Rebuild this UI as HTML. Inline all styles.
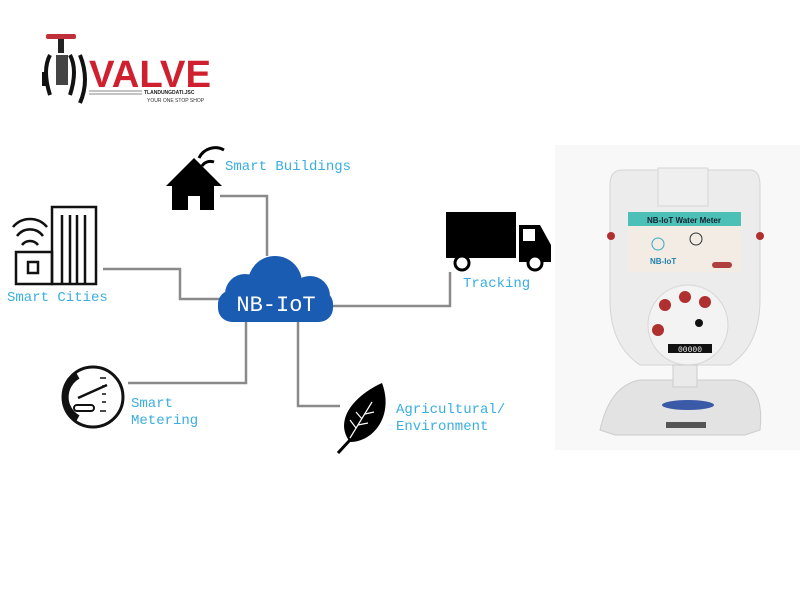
<!DOCTYPE html>
<html><head><meta charset="utf-8"><style>
html,body{margin:0;padding:0;background:#fff;width:800px;height:600px;overflow:hidden}
svg{display:block}
.lbl{font-family:"Liberation Mono",monospace;font-size:14px;fill:#3aaee0}
</style></head><body>
<svg width="800" height="600" viewBox="0 0 800 600" xmlns="http://www.w3.org/2000/svg">
<rect width="800" height="600" fill="#fff"/>
<!-- logo -->
<g>
<rect x="46" y="34" width="30" height="5" rx="2" fill="#c0303a"/>
<rect x="58" y="39" width="6" height="14" fill="#222"/>
<path d="M50 55 q-8 15 0 40" stroke="#111" stroke-width="4" fill="none"/>
<path d="M70 55 q8 15 0 40" stroke="#111" stroke-width="4" fill="none"/>
<path d="M80 55 q10 25 0 48" stroke="#111" stroke-width="4" fill="none"/>
<rect x="56" y="55" width="12" height="30" fill="#444"/>
<rect x="42" y="72" width="4" height="14" fill="#111"/>
<text x="89" y="87" font-family="Liberation Sans,sans-serif" font-weight="bold" font-size="38" fill="#d02030" textLength="122" lengthAdjust="spacingAndGlyphs">VALVE</text>
<line x1="89" y1="91" x2="142" y2="91" stroke="#888" stroke-width="1"/>
<line x1="89" y1="94" x2="142" y2="94" stroke="#888" stroke-width="1"/>
<text x="144" y="94" font-family="Liberation Sans,sans-serif" font-weight="bold" font-size="5" fill="#222">TLANDUNGDATI.JSC</text>
<text x="147" y="102" font-family="Liberation Sans,sans-serif" font-size="5" fill="#333">YOUR ONE STOP SHOP</text>
</g>
<!-- connectors -->
<g stroke="#8a8a8a" stroke-width="2.5" fill="none">
<polyline points="220,196 267,196 267,256"/>
<polyline points="103,269 180,269 180,299 220,299"/>
<polyline points="333,306 450,306 450,272"/>
<polyline points="128,383 246,383 246,322"/>
<polyline points="298,322 298,406 340,406"/>
</g>
<!-- cloud -->
<g fill="#1b5cb3">
<circle cx="275" cy="283" r="27"/>
<circle cx="245" cy="294" r="20"/>
<circle cx="310" cy="296" r="20"/>
<rect x="218" y="290" width="115" height="32" rx="14"/>
</g>
<text x="276" y="311" text-anchor="middle" font-family="Liberation Mono,monospace" font-size="22" fill="#fff">NB-IoT</text>
<!-- house -->
<path d="M166 186 L194 158 L222 186 L214 186 L214 210 L200 210 L200 196 L188 196 L188 210 L172 210 L172 186 Z" fill="#000"/>
<path d="M202 166 a10 10 0 0 1 12 -4 M199 158 a18 18 0 0 1 25 -8" stroke="#000" stroke-width="3" fill="none"/>
<text class="lbl" x="225" y="170">Smart Buildings</text>
<!-- cities -->
<g stroke="#111" stroke-width="2.5" fill="none">
<rect x="52" y="207" width="44" height="77"/>
<rect x="16" y="252" width="36" height="32"/>
<rect x="28" y="262" width="10" height="11"/>
<line x1="62" y1="215" x2="62" y2="284"/><line x1="70" y1="215" x2="70" y2="284"/>
<line x1="77" y1="215" x2="77" y2="284"/><line x1="85" y1="215" x2="85" y2="284"/>
<path d="M13 227 a22 22 0 0 1 34 0 M17 236 a16 16 0 0 1 26 0 M22 245 a10 10 0 0 1 16 0"/>
</g>
<text class="lbl" x="7" y="301">Smart Cities</text>
<!-- truck -->
<rect x="446" y="212" width="70" height="46" fill="#000"/>
<path d="M519 225 L540 225 L551 245 L551 262 L519 262 Z" fill="#000"/>
<rect x="523" y="229" width="12" height="12" fill="#fff"/>
<circle cx="462" cy="263" r="7" fill="#fff" stroke="#000" stroke-width="3"/>
<circle cx="535" cy="263" r="7" fill="#fff" stroke="#000" stroke-width="3"/>
<text class="lbl" x="463" y="287">Tracking</text>
<!-- metering -->
<circle cx="93" cy="397" r="30" fill="none" stroke="#111" stroke-width="3"/>
<path d="M78 376 a24 24 0 0 0 0 42" stroke="#111" stroke-width="6" fill="none"/>
<line x1="78" y1="398" x2="107" y2="385" stroke="#111" stroke-width="2.5"/>
<rect x="74" y="405" width="20" height="6" rx="3" fill="none" stroke="#111" stroke-width="2"/>
<g stroke="#111" stroke-width="1.5"><line x1="100" y1="378" x2="106" y2="378"/><line x1="102" y1="386" x2="106" y2="386"/><line x1="102" y1="394" x2="106" y2="394"/><line x1="102" y1="402" x2="106" y2="402"/><line x1="100" y1="411" x2="106" y2="411"/></g>
<text class="lbl" x="131" y="407">Smart</text>
<text class="lbl" x="131" y="424">Metering</text>
<!-- leaf -->
<path d="M382 383 C355 395 333 420 350 442 C374 442 394 415 382 383 Z" fill="#000"/>
<path d="M350 440 L338 453" stroke="#000" stroke-width="3"/>
<path d="M350 438 L372 402 M356 428 l-6 -8 M362 419 l-6 -7 M358 425 l10 -2 M365 414 l9 -2" stroke="#fff" stroke-width="1.2" fill="none"/>
<text class="lbl" x="396" y="413">Agricultural/</text>
<text class="lbl" x="396" y="430">Environment</text>
<!-- meter photo -->
<rect x="555" y="145" width="245" height="305" fill="#f8f8f8"/>
<path d="M622 170 L750 170 Q760 170 760 185 L760 300 Q760 345 730 365 L640 365 Q610 345 610 300 L610 185 Q610 170 622 170 Z" fill="#ececec" stroke="#d5d5d5"/>
<rect x="658" y="168" width="50" height="38" fill="#efefef" stroke="#d6d6d6"/>
<rect x="628" y="212" width="113" height="60" fill="#f2ece4"/>
<rect x="628" y="212" width="113" height="14" fill="#4cc0b6"/>
<text x="684" y="223" text-anchor="middle" font-family="Liberation Sans,sans-serif" font-weight="bold" font-size="8" fill="#123">NB-IoT Water Meter</text>
<circle cx="658" cy="244" r="6" fill="none" stroke="#3aa8c8"/>
<text x="650" y="264" font-family="Liberation Sans,sans-serif" font-weight="bold" font-size="8" fill="#1e7fb0">NB-IoT</text>
<circle cx="696" cy="239" r="6" fill="none" stroke="#333"/>
<rect x="712" y="262" width="20" height="6" rx="3" fill="#b04040"/>
<circle cx="611" cy="236" r="4" fill="#b03030"/><circle cx="760" cy="236" r="4" fill="#b03030"/>
<circle cx="688" cy="325" r="40" fill="#f3f3f3" stroke="#d6d6d6"/>
<circle cx="665" cy="305" r="6" fill="#b03030"/><circle cx="685" cy="297" r="6" fill="#b03030"/>
<circle cx="705" cy="302" r="6" fill="#b03030"/><circle cx="658" cy="330" r="6" fill="#b03030"/>
<circle cx="699" cy="323" r="4" fill="#111"/>
<rect x="668" y="344" width="44" height="9" fill="#111"/>
<text x="690" y="352" text-anchor="middle" font-family="Liberation Mono,monospace" font-size="8" fill="#eee">00000</text>
<path d="M600 430 Q610 385 640 380 L735 380 Q765 385 760 430 L745 435 L615 435 Z" fill="#e3e3e3" stroke="#ccc"/>
<rect x="673" y="365" width="24" height="22" fill="#eaeaea" stroke="#ccc"/>
<ellipse cx="688" cy="405" rx="26" ry="5" fill="#3a5aa8"/>
<rect x="666" y="422" width="40" height="6" fill="#555"/>
</svg>
</body></html>
